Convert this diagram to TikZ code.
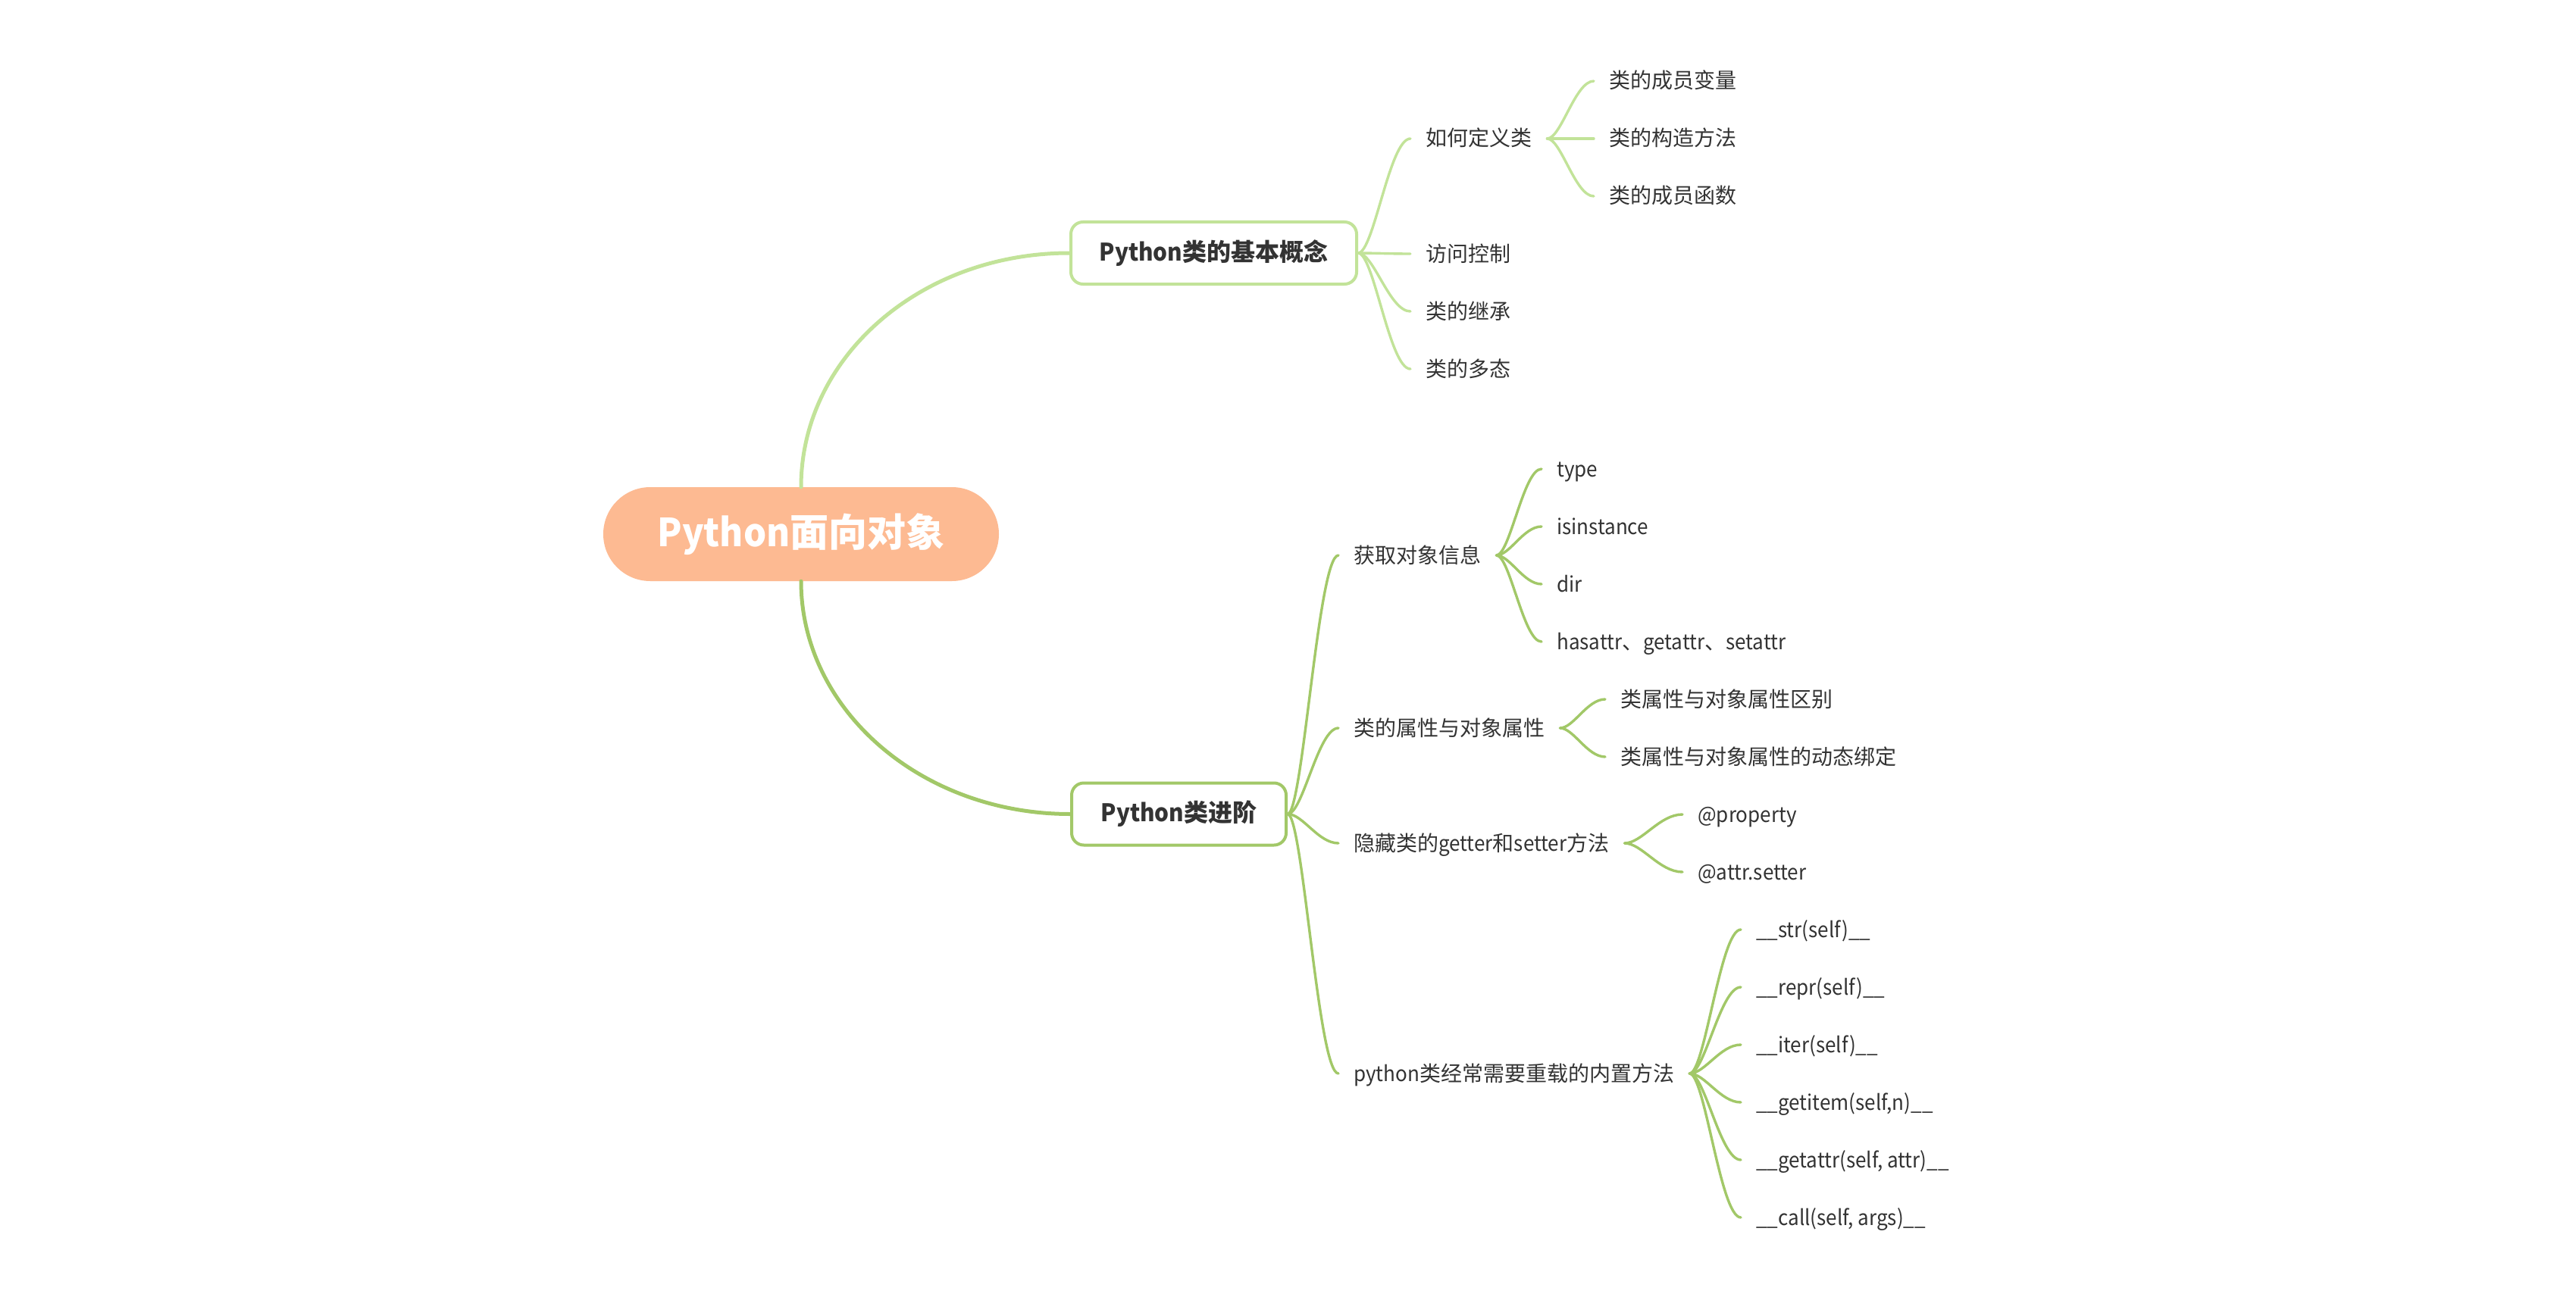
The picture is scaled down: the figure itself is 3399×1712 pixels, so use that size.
\documentclass[tikz,border=0pt]{standalone}
\usepackage{fontspec}
\setmainfont{Noto Sans CJK SC}
\newfontfamily\lat{Noto Sans CJK SC}[FakeStretch=0.93]
\usetikzlibrary{calc}
\definecolor{gtop}{RGB}{194,227,153}
\definecolor{gbot}{RGB}{162,200,104}
\definecolor{rootfill}{RGB}{253,186,146}
\definecolor{txt}{RGB}{51,51,51}
\tikzset{
  leaf/.style={anchor=west, inner sep=0pt, text=txt, font=\fontsize{28}{34}\selectfont, text height=24pt, text depth=4pt},
  rootnode/.style={fill=rootfill, rounded corners=62pt, minimum width=522pt, minimum height=124pt, inner sep=0pt, text=white, font=\fontsize{51}{60}\selectfont\bfseries},
  boxnode/.style={fill=white, line width=4pt, rounded corners=16pt, minimum height=82pt, inner sep=0pt, text=txt, font=\fontsize{32}{38}\selectfont\bfseries},
  mainlink/.style={line width=5pt, line cap=round},
  toplink/.style={draw=gtop, line width=3.4pt, line cap=round},
  botlink/.style={draw=gbot, line width=3.4pt, line cap=round},
}
\newcommand\mylink[3]{%
  \path ([xshift=-20pt]#3.west) coordinate (tmpE);
  \draw[#1] (#2) .. controls ($(#2)!0.3!(#2 -| tmpE)$) and ($(tmpE)!0.4!(tmpE -| #2)$) .. (tmpE);
}
\begin{document}
\begin{tikzpicture}[x=1pt,y=1pt]
\fill[white] (0,0) rectangle (3399,-1712);
\useasboundingbox (0,0) rectangle (3399,-1712);

% root and main boxes
\node[rootnode] (root) at (1057,-705) {{\lat Python}面向对象};
\node[boxnode, draw=gtop, minimum width=377pt] (b1) at (1601.5,-334) {{\lat Python}类的基本概念};
\node[boxnode, draw=gbot, minimum width=283pt] (b2) at (1555.5,-1074.5) {{\lat Python}类进阶};

\draw[mainlink, draw=gtop] (root.north) .. controls +(0,171) and +(-197,0) .. (b1.west);
\draw[mainlink, draw=gbot] (root.south) .. controls +(0,-169) and +(-197,0) .. (b2.west);

% top branch
\node[leaf] (n1) at (1881,-183) {如何定义类};
\node[leaf] (n2) at (1881,-335) {访问控制};
\node[leaf] (n3) at (1881,-411) {类的继承};
\node[leaf] (n4) at (1881,-487) {类的多态};
\node[leaf] (n11) at (2123,-107) {类的成员变量};
\node[leaf] (n12) at (2123,-183) {类的构造方法};
\node[leaf] (n13) at (2123,-259) {类的成员函数};

\coordinate (b1s) at (b1.east);
\mylink{toplink}{b1s}{n1}
\mylink{toplink}{b1s}{n2}
\mylink{toplink}{b1s}{n3}
\mylink{toplink}{b1s}{n4}
\coordinate (n1s) at ([xshift=20pt]n1.east);
\mylink{toplink}{n1s}{n11}
\mylink{toplink}{n1s}{n12}
\mylink{toplink}{n1s}{n13}

% bottom branch
\node[leaf] (m1) at (1786,-733) {获取对象信息};
\node[leaf] (m2) at (1786,-961) {类的属性与对象属性};
\node[leaf] (m3) at (1786,-1113) {隐藏类的{\lat getter}和{\lat setter}方法};
\node[leaf] (m4) at (1786,-1417) {{\lat python}类经常需要重载的内置方法};

\node[leaf] (m11) at (2054,-619) {\lat type};
\node[leaf] (m12) at (2054,-695) {\lat isinstance};
\node[leaf] (m13) at (2054,-771) {\lat dir};
\node[leaf] (m14) at (2054,-847) {{\lat hasattr}、{\lat getattr}、{\lat setattr}};

\node[leaf] (m21) at (2138,-923) {类属性与对象属性区别};
\node[leaf] (m22) at (2138,-999) {类属性与对象属性的动态绑定};

\node[leaf] (m31) at (2240,-1075) {\lat @property};
\node[leaf] (m32) at (2240,-1151) {\lat @attr.setter};

\node[leaf] (m41) at (2317,-1227) {\lat \_\_str(self)\_\_};
\node[leaf] (m42) at (2317,-1303) {\lat \_\_repr(self)\_\_};
\node[leaf] (m43) at (2317,-1379) {\lat \_\_iter(self)\_\_};
\node[leaf] (m44) at (2317,-1455) {\lat \_\_getitem(self,n)\_\_};
\node[leaf] (m45) at (2317,-1531) {\lat \_\_getattr(self, attr)\_\_};
\node[leaf] (m46) at (2317,-1607) {\lat \_\_call(self, args)\_\_};

\coordinate (b2s) at (b2.east);
\mylink{botlink}{b2s}{m1}
\mylink{botlink}{b2s}{m2}
\mylink{botlink}{b2s}{m3}
\mylink{botlink}{b2s}{m4}

\coordinate (m1s) at ([xshift=20pt]m1.east);
\mylink{botlink}{m1s}{m11}
\mylink{botlink}{m1s}{m12}
\mylink{botlink}{m1s}{m13}
\mylink{botlink}{m1s}{m14}

\coordinate (m2s) at ([xshift=20pt]m2.east);
\mylink{botlink}{m2s}{m21}
\mylink{botlink}{m2s}{m22}

\coordinate (m3s) at ([xshift=20pt]m3.east);
\mylink{botlink}{m3s}{m31}
\mylink{botlink}{m3s}{m32}

\coordinate (m4s) at ([xshift=20pt]m4.east);
\mylink{botlink}{m4s}{m41}
\mylink{botlink}{m4s}{m42}
\mylink{botlink}{m4s}{m43}
\mylink{botlink}{m4s}{m44}
\mylink{botlink}{m4s}{m45}
\mylink{botlink}{m4s}{m46}
\end{tikzpicture}
\end{document}
